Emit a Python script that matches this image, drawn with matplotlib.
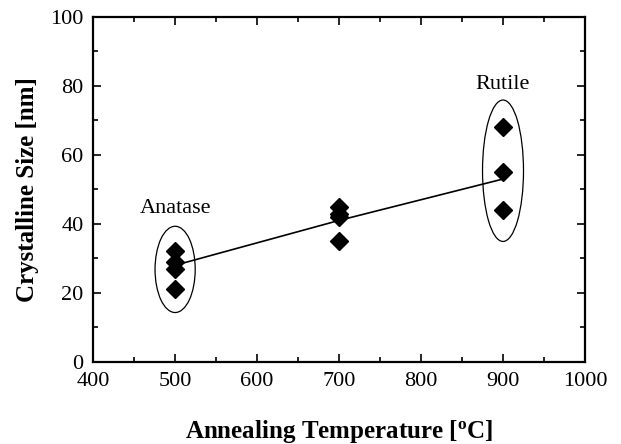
import matplotlib.pyplot as plt
from matplotlib.patches import Ellipse
from matplotlib.ticker import MultipleLocator

plt.rcParams['font.family'] = ['Liberation Serif', 'DejaVu Serif']

# measured crystallite sizes
temps = [500, 500, 500, 500, 700, 700, 700, 700, 900, 900, 900]
sizes = [32, 29, 27, 21, 45, 43, 42, 35, 68, 55, 44]

# trend line
trend_t = [500, 700, 900]
trend_s = [28, 41, 53]

fig = plt.figure(figsize=(6.21, 4.44), dpi=100)
ax = fig.add_axes([0.150, 0.185, 0.792, 0.777])

ax.plot(trend_t, trend_s, color='black', lw=1.2, zorder=2)
ax.plot(temps, sizes, 'D', color='black', ms=9.5, zorder=3)

ax.add_patch(Ellipse((500, 26.8), 49, 25, fill=False, ec='black', lw=0.9))
ax.add_patch(Ellipse((900, 55.4), 50, 41, fill=False, ec='black', lw=0.9))

ax.text(500, 44.5, 'Anatase', ha='center', va='center', fontsize=16)
ax.text(900, 80.5, 'Rutile', ha='center', va='center', fontsize=16)

ax.set_xlim(400, 1000)
ax.set_ylim(0, 100)
ax.xaxis.set_major_locator(MultipleLocator(100))
ax.xaxis.set_minor_locator(MultipleLocator(50))
ax.yaxis.set_major_locator(MultipleLocator(20))
ax.yaxis.set_minor_locator(MultipleLocator(10))
ax.tick_params(which='both', direction='in', top=True, right=True, width=1.2)
ax.tick_params(which='major', length=6, labelsize=16, pad=7)
ax.tick_params(which='minor', length=3.5)
for s in ax.spines.values():
    s.set_linewidth(1.6)

ax.set_xlabel('Annealing Temperature [$\\mathregular{^{o}}$C]', fontsize=18,
              fontweight='bold', labelpad=20)
ax.set_ylabel('Crystalline Size [nm]', fontsize=18, fontweight='bold', labelpad=8)

fig.savefig('out.png', dpi=100)
